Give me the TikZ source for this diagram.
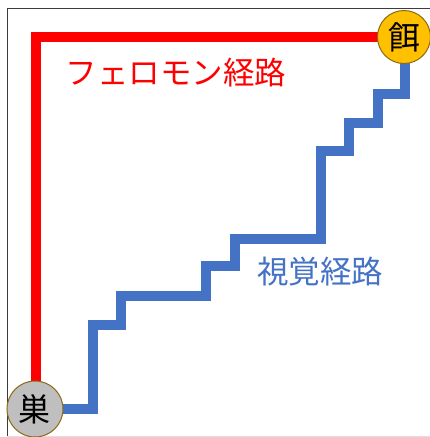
\documentclass[tikz,border=0pt]{standalone}
\usepackage{fontspec}
\newfontfamily\jpfont{Noto Sans CJK JP}
\definecolor{pherored}{RGB}{255,0,0}
\definecolor{visblue}{RGB}{68,114,196}
\definecolor{nestgray}{RGB}{191,191,191}
\definecolor{foodorange}{RGB}{255,192,0}
\definecolor{rimbrown}{RGB}{140,105,20}
\definecolor{framegray}{RGB}{60,60,60}
\tikzset{
  pathred/.style={draw=pherored, line width=10pt, line join=miter},
  pathblue/.style={draw=visblue, line width=9.5pt, line join=miter},
  placenode/.style={circle, draw=rimbrown, line width=1pt, inner sep=0pt, font=\jpfont\fontsize{32}{32}\selectfont},
  lbltext/.style={inner sep=0pt, font=\jpfont\fontsize{31.5}{31.5}\selectfont},
}
\begin{document}
\begin{tikzpicture}[x=1pt,y=-1pt]
\useasboundingbox (0,0) rectangle (430,437);
\fill[white] (0,0) rectangle (430,437);
% frame
\draw[framegray, line width=1pt] (7,437) -- (7,8) -- (430,8);
\draw[black!12, line width=0.6pt] (7,436.5) -- (430,436.5);
% anchor coordinates
\coordinate (nestc) at (35,409);
\coordinate (foodc) at (404,37);
% red pheromone route
\draw[pathred] (36,385) -- (36,37) -- (380,37);
% blue visual route
\draw[pathblue] (nestc) -- (93,409) -- (93,325) -- (121,325) -- (121,296)
  -- (206,296) -- (206,266) -- (235,266) -- (235,239) -- (321,239)
  -- (321,151) -- (349,151) -- (349,123) -- (378,123) -- (378,94)
  -- (405,94) -- (405,60);
% places
\node[placenode, fill=nestgray, minimum size=56pt] (nest) at (nestc) {巣};
\node[placenode, fill=foodorange, minimum size=53pt] (food) at (foodc) {餌};
% labels
\node[lbltext, text=pherored] (plabel) at (176,73) {フェロモン経路};
\node[lbltext, text=visblue] (vlabel) at (320,272) {視覚経路};
\end{tikzpicture}
\end{document}
